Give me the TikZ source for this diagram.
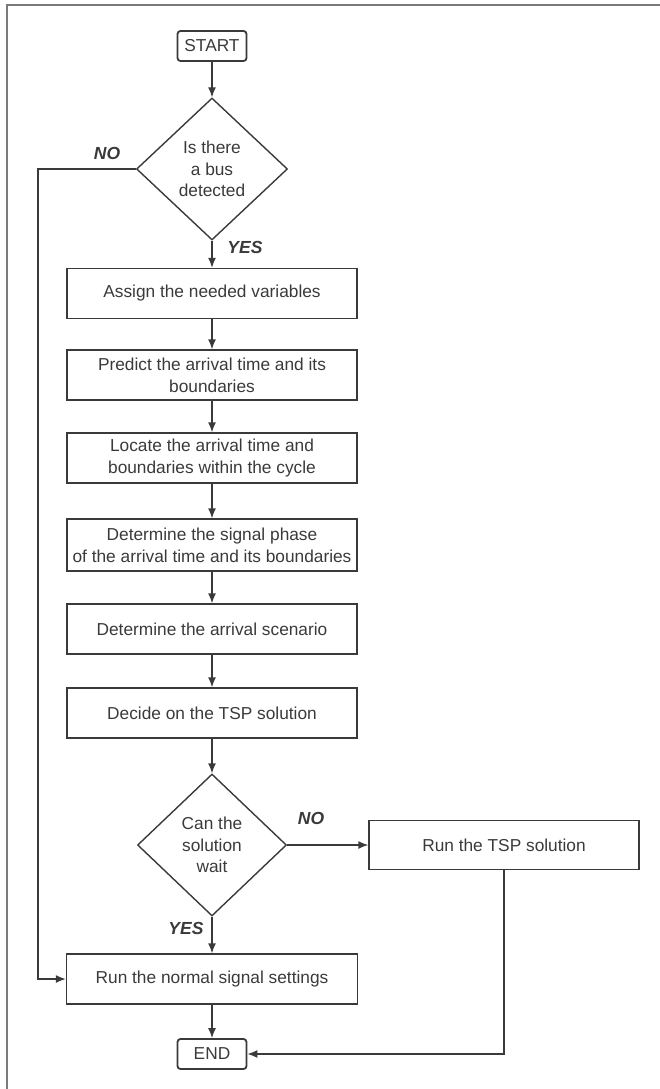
\documentclass[tikz,border=0pt]{standalone}
\usepackage{fontspec}
\setmainfont{Liberation Sans}
\usetikzlibrary{shapes.geometric,arrows.meta}
\definecolor{ink}{HTML}{3A3A3A}
\definecolor{framegray}{HTML}{7A7A7A}
\begin{document}
\begin{tikzpicture}[x=1pt, y=-1pt,
		every node/.style={font=\fontsize{17.3}{21.7}\selectfont, text=ink},
		proc/.style={draw=ink, line width=1.4pt, minimum width=290pt, minimum height=50pt, inner sep=2pt, align=center},
		term/.style={draw=ink, line width=1.8pt, rounded corners=3pt, minimum width=69pt, minimum height=30pt, inner sep=0pt},
		ask/.style={draw=ink, line width=1.4pt, diamond, minimum width=151pt, minimum height=142pt, inner sep=0pt, align=center},
		flow/.style={draw=ink, line width=1.4pt, -{Latex[length=10pt,width=8pt]}},
		tag/.style={font=\fontsize{17.5}{20}\selectfont\bfseries\itshape}]
			\useasboundingbox (0,0) rectangle (660,1089);
			\draw[color=framegray, line width=2pt] (6.5,1089) -- (6.5,5.5) -- (660,5.5);

			\node[term] (start) at (212, 46) {START};
			\node[ask] (q1) at (212, 169) {Is there\\a bus\\detected};
			\node[proc] (b1) at (212, 293.5) {Assign the needed variables};
			\node[proc] (b2) at (212, 375) {Predict the arrival time and its\\boundaries};
			\node[proc] (b3) at (212, 458) {Locate the arrival time and\\boundaries within the cycle};
			\node[proc, minimum height=52pt] (b4) at (212, 545) {Determine the signal phase\\of the arrival time and its boundaries};
			\node[proc] (b5) at (212, 629) {Determine the arrival scenario};
			\node[proc] (b6) at (212, 713) {Decide on the TSP solution};
			\node[ask, minimum width=149pt] (q2) at (212, 845) {Can the\\solution\\wait};
			\node[proc, minimum width=270pt, minimum height=49pt] (tsp) at (504, 845) {Run the TSP solution};
			\node[proc, minimum width=291pt] (normal) at (212, 979) {Run the normal signal settings};
			\node[term] (stop) at (212, 1054) {END};
			\coordinate (nobend) at (38, 169);

			\node[tag] (no1) at (107, 153) {NO};
			\node[tag] (yes1) at (245, 247) {YES};
			\node[tag] (no2) at (311, 818) {NO};
			\node[tag] (yes2) at (186, 928) {YES};

			\draw[flow] (start) -- (q1);
			\draw[flow] (q1) -- (b1);
			\draw[flow] (b1) -- (b2);
			\draw[flow] (b2) -- (b3);
			\draw[flow] (b3) -- (b4);
			\draw[flow] (b4) -- (b5);
			\draw[flow] (b5) -- (b6);
			\draw[flow] (b6) -- (q2);
			\draw[flow] (q2) -- (tsp);
			\draw[flow] (q2) -- (normal);
			\draw[flow] (normal) -- (stop);
			\draw[flow] (q1.west) -- (nobend) |- (normal.west);
			\draw[flow] (tsp.south) |- (stop.east);
		\end{tikzpicture}
\end{document}
